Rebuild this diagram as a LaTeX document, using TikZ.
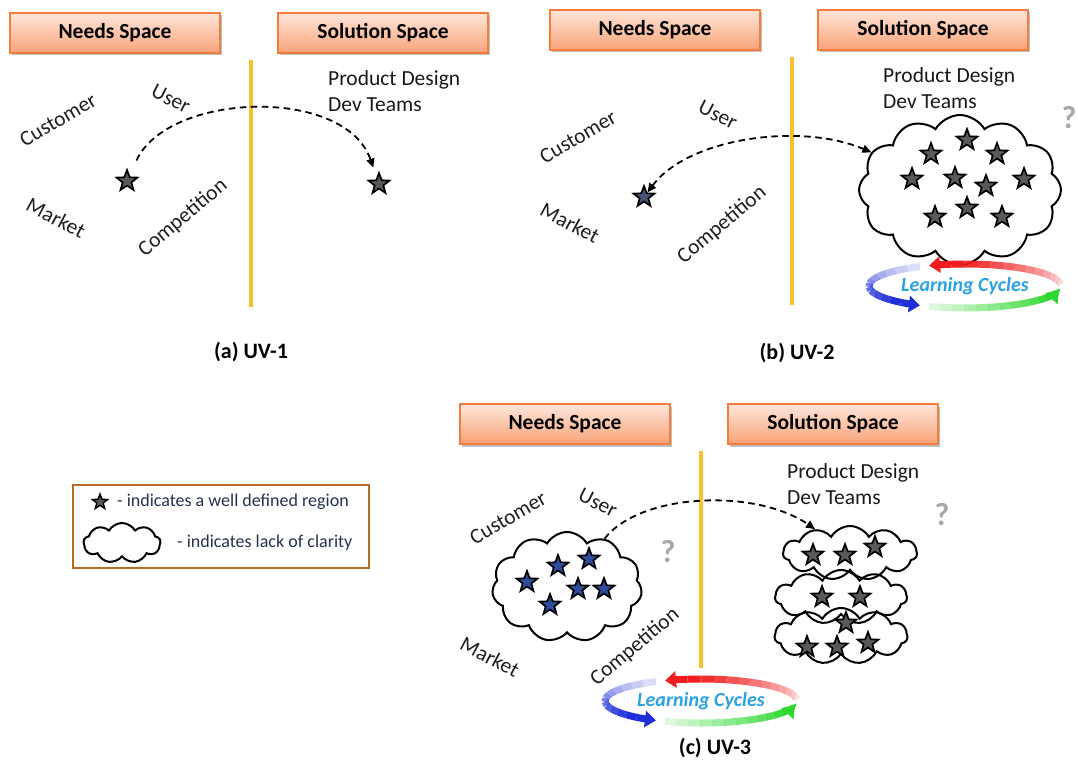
\documentclass[tikz,border=0pt]{standalone}
\usepackage{fontspec}
\setmainfont{Carlito}
\usetikzlibrary{shapes.geometric,shapes.symbols,arrows.meta,shadows}
\definecolor{hdrline}{HTML}{F47C3C}
\definecolor{hdrtop}{HTML}{FEE6DA}
\definecolor{hdrbot}{HTML}{F9A378}
\definecolor{ylw}{HTML}{F6C12A}
\definecolor{stargray}{HTML}{5A5A5A}
\definecolor{starblue}{HTML}{2F4C9C}
\definecolor{qgray}{HTML}{A8A8A8}
\definecolor{legtext}{HTML}{25324F}
\definecolor{legline}{HTML}{B86B22}
\definecolor{lcblue}{HTML}{2AA3E2}
\definecolor{lcred}{HTML}{F01E1E}
\definecolor{lcbl}{HTML}{1E2FD8}
\definecolor{lcgreen}{HTML}{2ED82E}
\newcommand{\lcarc}[5]{%
  \foreach \k in {0,...,11}{%
    \pgfmathsetmacro\sa{-(#2+(#3-#2)*\k/12)}%
    \pgfmathsetmacro\ea{-(#2+(#3-#2)*(\k+1)/12)}%
    \pgfmathsetmacro\op{0.08+0.92*(\k+1)/12}%
    \draw[#1, line width=7pt, draw opacity=\op] (\sa:#4 and #5) arc[start angle=\sa, end angle=\ea, x radius=#4, y radius=#5];
  }%
  \pgfmathsetmacro\sa{-#3}\pgfmathsetmacro\ea{-(#3+14)}%
  \draw[#1, line width=7pt, -{Triangle[length=11pt,width=16pt]}] (\sa:#4 and #5) arc[start angle=\sa, end angle=\ea, x radius=#4, y radius=#5];
}
\newcommand{\learncyc}[1]{%
  \begin{scope}[shift={(#1)}]
    \lcarc{lcred}{4}{98}{96}{22}
    \lcarc{lcbl}{118}{228}{96}{22}
    \lcarc{lcgreen}{248}{334}{96}{22}
  \end{scope}
  \node[lc] at (#1) {Learning Cycles};
}
\begin{document}
\begin{tikzpicture}[x=1pt,y=-1pt,
  hdr/.style={draw=hdrline, line width=1.2pt, top color=hdrtop, bottom color=hdrbot,
    minimum width=210pt, minimum height=40pt, inner sep=0pt,
    font=\fontsize{21.5}{25}\selectfont\bfseries,
    drop shadow={shadow xshift=1.5pt, shadow yshift=-2.5pt, opacity=0.25, fill=black}},
  lbl/.style={font=\fontsize{21.5}{25}\selectfont, text=black!88, inner sep=0pt},
  pd/.style={font=\fontsize{21.5}{26}\selectfont, align=left, anchor=west, inner sep=0pt, text=black!90},
  starn/.style={star, star points=5, star point ratio=2.4, minimum size=22pt, inner sep=0pt,
    draw=black, line width=1.7pt, fill=stargray},
  bstar/.style={starn, fill=starblue},
  cloudn/.style={draw=black, cloud, cloud ignores aspect, cloud puff arc=120, line width=2pt, inner sep=0pt},
  yline/.style={draw=ylw, line width=4pt},
  conn/.style={draw=black, line width=1.8pt, dash pattern=on 6.5pt off 4.5pt},
  qmark/.style={font=\fontsize{32}{32}\selectfont\bfseries, text=qgray, inner sep=0pt},
  ttl/.style={font=\fontsize{22}{26}\selectfont\bfseries},
  leg/.style={font=\fontsize{18}{21}\selectfont, text=legtext, anchor=west, inner sep=0pt},
  lc/.style={font=\fontsize{20}{24}\selectfont\bfseries\itshape, text=lcblue, inner sep=0pt}
]
\path[use as bounding box, fill=white] (0,0) rectangle (1078,762);

% ---------------- (a) UV-1 ----------------
\node[hdr] (needsA) at (115,33) {Needs Space};
\node[hdr] (solA) at (383,33) {Solution Space};
\coordinate (divAt) at (251,60);
\coordinate (divAb) at (251,307);
\draw[yline] (divAt) -- (divAb);
\node[pd] (pdA) at (328,91) {Product Design\\Dev Teams};
\node[lbl, rotate=30] (custA) at (58,120) {Customer};
\node[lbl, rotate=-27] (userA) at (171,99) {User};
\node[lbl, rotate=-28] (markA) at (56,218) {Market};
\node[lbl, rotate=40] (compA) at (183,218) {Competition};
\node[starn] (sA1) at (127,181) {};
\node[starn] (sA2) at (379,184) {};
\draw[conn, shorten <=16pt, shorten >=10pt, -{Triangle[length=9pt,width=8pt]}]
  (sA1) .. controls (168,92) and (345,86) .. (sA2);
\node[ttl] (tA) at (251,352) {(a) UV-1};

% ---------------- (b) UV-2 ----------------
\node[hdr] (needsB) at (655,30) {Needs Space};
\node[hdr] (solB) at (923,30) {Solution Space};
\coordinate (divBt) at (792,57);
\coordinate (divBb) at (792,305);
\draw[yline] (divBt) -- (divBb);
\node[pd] (pdB) at (883,88) {Product Design\\Dev Teams};
\node[lbl, rotate=30] (custB) at (578,137) {Customer};
\node[lbl, rotate=-27] (userB) at (718,115) {User};
\node[lbl, rotate=-28] (markB) at (570,223) {Market};
\node[lbl, rotate=40] (compB) at (722,225) {Competition};
\node[bstar, fill=stargray!60!starblue] (sB) at (644,197) {};
\node[cloudn, cloud puffs=12, minimum width=202pt, minimum height=150pt] (cB) at (960,190) {};
\foreach \p [count=\n] in {(967,140),(931,154),(997,154),(912,179),(955,178),(986,186),(1024,179),(935,217),(967,208),(1002,217)}
  \node[starn] (cBs\n) at \p {};
\draw[conn, {Triangle[length=9pt,width=8pt]}-{Triangle[length=9pt,width=8pt]}]
  (sB) .. controls (688,138) and (800,122) .. (cB);
\node[qmark] (qB) at (1069,118) {?};
\coordinate (lcB) at (965,286);
\learncyc{lcB}
\node[ttl] (tB) at (797,353) {(b) UV-2};

% ---------------- legend ----------------
\draw[legline, line width=2pt] (73,485) rectangle (369,568);
\node[starn, minimum size=16pt, line width=1.4pt] (legStar) at (100,502) {};
\node[leg] (legT1) at (117,502) {- indicates a well defined region};
\node[cloudn, cloud puffs=9, minimum width=77pt, minimum height=40pt] (legCloud) at (122,543) {};
\node[leg] (legT2) at (177,543) {- indicates lack of clarity};

% ---------------- (c) UV-3 ----------------
\node[hdr] (needsC) at (565,424) {Needs Space};
\node[hdr] (solC) at (833,424) {Solution Space};
\coordinate (divCt) at (701,451);
\coordinate (divCb) at (701,668);
\draw[yline] (divCt) -- (divCb);
\node[pd] (pdC) at (787,484) {Product Design\\Dev Teams};
\node[lbl, rotate=30] (custC) at (508,518) {Customer};
\node[lbl, rotate=-27] (userC) at (598,503) {User};
\node[lbl, rotate=-28] (markC) at (490,657) {Market};
\node[lbl, rotate=40] (compC) at (635,647) {Competition};
\node[cloudn, cloud puffs=11, minimum width=150pt, minimum height=110pt] (cC) at (567,587) {};
\foreach \p [count=\n] in {(527,582),(558,566),(589,559),(550,605),(578,589),(604,589)}
  \node[bstar] (cCs\n) at \p {};
\node[qmark] (qC1) at (668,552) {?};
\node[cloudn, cloud puffs=11, minimum width=134pt, minimum height=54pt] (cT) at (850,553) {};
\node[cloudn, cloud puffs=11, minimum width=132pt, minimum height=54pt] (cM) at (841,597) {};
\node[cloudn, cloud puffs=11, minimum width=133pt, minimum height=56pt] (cL) at (841,636) {};
\foreach \p [count=\n] in {(813,555),(845,555),(875,547),(822,597),(860,597),(846,623),(807,647),(837,647),(868,643)}
  \node[starn] (cRs\n) at \p {};
\draw[conn, -{Triangle[length=9pt,width=8pt]}]
  (cC) .. controls (640,493) and (755,488) .. (cT);
\node[qmark] (qC2) at (942,515) {?};
\coordinate (lcC) at (701,701);
\learncyc{lcC}
\node[ttl] (tC) at (715,748) {(c) UV-3};
\end{tikzpicture}
\end{document}
